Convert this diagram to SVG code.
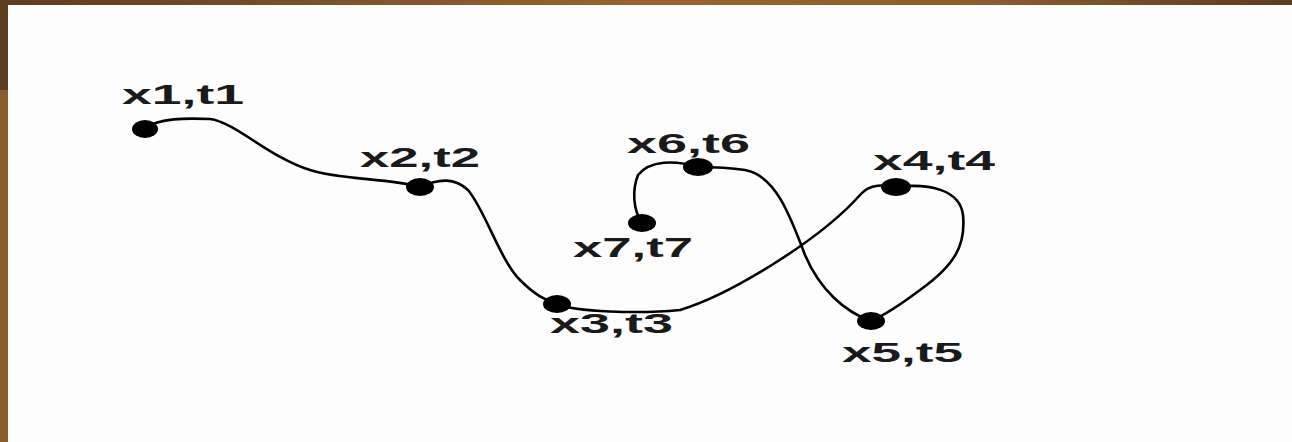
<svg xmlns="http://www.w3.org/2000/svg" width="1292" height="442" viewBox="0 0 1292 442">
<defs>
<linearGradient id="topbar" x1="0" y1="0" x2="1" y2="0">
<stop offset="0" stop-color="#5e3d20"/>
<stop offset="0.5" stop-color="#9a6432"/>
<stop offset="0.75" stop-color="#8f5c2f"/>
<stop offset="1" stop-color="#5e3d20"/>
</linearGradient>
<style>
.dot{fill:#000}
.lbl{font-family:"Liberation Sans",Arial,sans-serif;font-weight:bold;font-size:28px;fill:#1a1a1a}
.edge{fill:none;stroke:#000;stroke-width:2.6;stroke-linecap:round;stroke-linejoin:round}
</style>
</defs>
<rect x="0" y="0" width="1292" height="442" fill="#fdfdfd"/>
<rect x="0" y="0" width="1292" height="5" fill="url(#topbar)"/>
<rect x="0" y="0" width="8" height="90" fill="#5e3d20"/>
<rect x="0" y="90" width="8" height="352" fill="#8b5a2f"/>
<g id="connectors">
<path class="edge" d="M145,128 C160,118 185,118 210,119 C235,122 270,158 310,170 C340,180 390,178 420,187"/>
<path class="edge" d="M420,187 C440,178 455,178 468,190 C485,210 500,260 520,280 C535,295 545,300 557,304"/>
<path class="edge" d="M557,304 C575,312 640,314 680,310 C730,295 820,240 860,195 C870,183 885,185 896,187"/>
<path class="edge" d="M896,187 C930,183 960,190 963,215 C966,245 955,265 920,290 C900,305 885,315 871,321"/>
<path class="edge" d="M871,321 C845,312 820,290 805,255 C790,215 775,175 745,170 C725,167 710,167 698,167"/>
<path class="edge" d="M698,167 C675,160 650,160 638,175 C632,190 633,210 642,223"/>
</g>
<g id="n1"><ellipse class="dot" cx="145" cy="129" rx="13" ry="9"/><text class="lbl" x="122" y="104" textLength="122" lengthAdjust="spacingAndGlyphs">x1,t1</text></g>
<g id="n2"><ellipse class="dot" cx="420" cy="187" rx="14" ry="9"/><text class="lbl" x="360" y="167" textLength="120" lengthAdjust="spacingAndGlyphs">x2,t2</text></g>
<g id="n3"><ellipse class="dot" cx="557" cy="304" rx="14" ry="9"/><text class="lbl" x="550" y="333" textLength="123" lengthAdjust="spacingAndGlyphs">x3,t3</text></g>
<g id="n4"><ellipse class="dot" cx="896" cy="187" rx="15" ry="9"/><text class="lbl" x="873" y="170" textLength="122" lengthAdjust="spacingAndGlyphs">x4,t4</text></g>
<g id="n5"><ellipse class="dot" cx="871" cy="321" rx="14" ry="9"/><text class="lbl" x="842" y="362" textLength="121" lengthAdjust="spacingAndGlyphs">x5,t5</text></g>
<g id="n6"><ellipse class="dot" cx="698" cy="167" rx="15" ry="9"/><text class="lbl" x="627" y="153" textLength="123" lengthAdjust="spacingAndGlyphs">x6,t6</text></g>
<g id="n7"><ellipse class="dot" cx="642" cy="223" rx="14" ry="9"/><text class="lbl" x="573" y="257" textLength="120" lengthAdjust="spacingAndGlyphs">x7,t7</text></g>
</svg>
